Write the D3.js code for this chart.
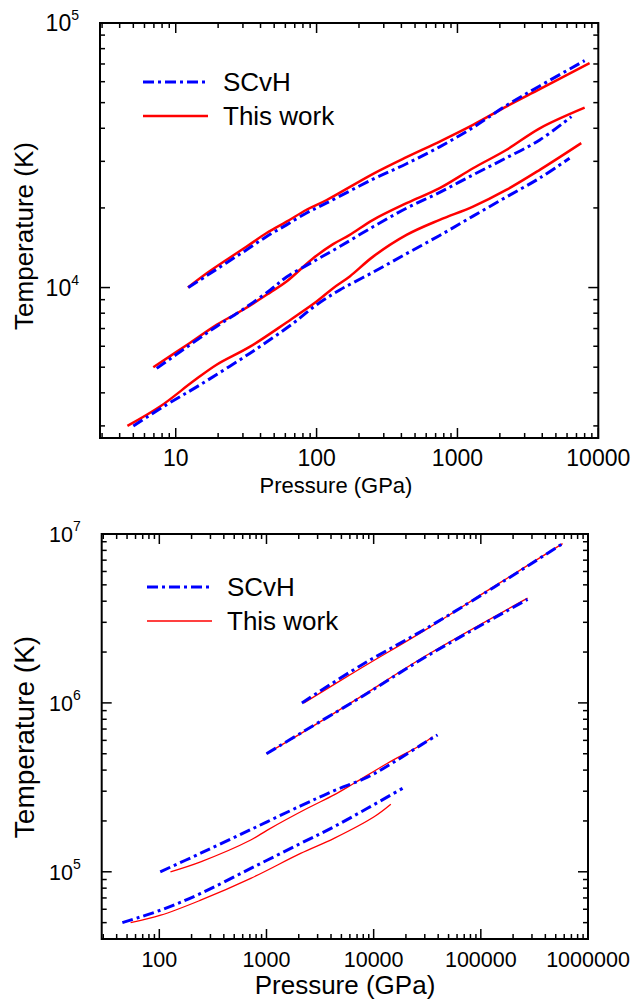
<!DOCTYPE html>
<meta charset="utf-8">
<style>
body { margin: 0; background: #fff; }
text { font-family: "Liberation Sans", Arial, sans-serif; fill: #000; }
.frame { fill: none; stroke: #000; stroke-width: 2; }
.tick { stroke: #000; stroke-width: 1.5; }
</style>
<svg width="636" height="1000"></svg>
<script src="https://d3js.org/d3.v7.min.js"></script>
<script>

// ---- top panel: [pressure GPa, temperature K]
var scvhTopA = [[12.3,10000],[16.6,11090],[23,12420],[31.9,13900],[44.2,15600],[61.2,17260],[84.9,19140],[118,20890],[252,25700],[435,29380],[748,34040],[1290,40270],[2220,48750],[3840,57810],[8000,72110]];
var workTopA = [[12.2,10000],[16.6,11320],[23,12740],[31.9,14290],[44.2,16070],[61.2,17740],[84.9,19680],[118,21430],[252,26920],[435,31120],[748,35650],[1290,41210],[2220,48310],[3840,56230],[8670,70470]];
var scvhTopB = [[7.33,4950],[12.6,6070],[19.5,7130],[30.1,8280],[46.7,9770],[61.2,10960],[94.6,12530],[146,14290],[252,16980],[435,19950],[748,22910],[1290,26670],[2220,30900],[3840,36140],[6440,44260]];
var workTopB = [[6.93,5000],[12.6,6170],[19.5,7230],[30.1,8240],[46.7,9570],[61.2,10540],[94.6,12910],[131,14590],[172,15810],[252,18030],[435,20840],[748,23770],[1290,28250],[2220,33110],[3840,39990],[8000,47860]];
var scvhTopC = [[5.0,3000],[8.63,3610],[14.9,4290],[33.7,5650],[68.2,7330],[100,8610],[146,9790],[252,11430],[435,13430],[748,15740],[1290,18620],[2220,21980],[3840,25940],[6250,30830]];
var workTopC = [[4.54,3000],[7.74,3550],[13.3,4420],[19.5,5110],[33.7,5980],[61.2,7380],[100,8850],[131,9950],[172,11020],[252,13090],[435,15810],[748,18030],[1290,20230],[2220,23390],[3840,27860],[7570,35160]];

// ---- bottom panel
var scvhBotA = [[2140,1000000],[7590,1667000],[31800,2786000],[133000,4842000],[579000,8770000]];
var workBotA = [[2240,1000000],[7590,1603000],[31800,2754000],[133000,4898000],[579000,8770000]];
var scvhBotB = [[1000,500000],[2240,680000],[7590,1080000],[31800,1900000],[273000,4100000]];
var workBotB = [[1000,500000],[2240,676000],[7590,1089000],[31800,1928000],[273000,4169000]];
var scvhBotC = [[102,100000],[243,128800],[713,177800],[2080,245500],[4270,302000],[8750,363100],[15490,446700],[27540,562300],[39450,645700]];
var workBotC = [[127,100000],[243,114600],[713,154200],[1019,176600],[2410,237700],[4270,285100],[6560,334200],[13460,439500],[27540,563600],[35400,631000]];
var scvhBotD = [[45.2,50000],[103,59300],[243,74400],[713,104700],[2080,147200],[4270,184900],[8750,237700],[18600,311900]];
var workBotD = [[54,50000],[103,55300],[243,67900],[713,91400],[2080,128500],[4270,157800],[10100,211800],[14460,251200]];

var topXTicks = [10, 100, 1000, 10000];
var topYTicks = [4, 5];
var botXTicks = [100, 1000, 10000, 100000, 1000000];
var botYTicks = [5, 6, 7];
var legendLabels = ["SCvH", "This work"];

var svg = d3.select("svg");

function minorTicks(domain) {
  var out = [];
  var lo = Math.floor(Math.log10(domain[0])), hi = Math.ceil(Math.log10(domain[1]));
  for (var e = lo; e <= hi; e++) {
    for (var m = 1; m <= 9; m++) {
      var v = m * Math.pow(10, e);
      if (v >= domain[0] * 0.999 && v <= domain[1] * 1.001) out.push({v: v, major: m === 1});
    }
  }
  return out;
}

function panel(cfg) {
  var x = d3.scaleLog().domain(cfg.xDomain).range([cfg.left, cfg.right]);
  var y = d3.scaleLog().domain(cfg.yDomain).range([cfg.bottom, cfg.top]);
  var g = svg.append("g");

  var line = d3.line()
      .x(function(d) { return x(d[0]); })
      .y(function(d) { return y(d[1]); })
      .curve(d3.curveCatmullRom.alpha(0.5));

  cfg.work.forEach(function(s) {
    g.append("path").attr("d", line(s))
        .attr("fill", "none").attr("stroke", "#ff0000")
        .attr("stroke-width", cfg.redWidth);
  });
  cfg.scvh.forEach(function(s) {
    g.append("path").attr("d", line(s))
        .attr("fill", "none").attr("stroke", "#0000ff")
        .attr("stroke-width", 3).attr("stroke-dasharray", "11,4,3,4");
  });

  // ticks on all four sides, pointing in
  minorTicks(cfg.xDomain).forEach(function(t) {
    var len = t.major ? 10 : 5, px = x(t.v);
    g.append("line").attr("class", "tick").attr("x1", px).attr("x2", px).attr("y1", cfg.bottom).attr("y2", cfg.bottom - len);
    g.append("line").attr("class", "tick").attr("x1", px).attr("x2", px).attr("y1", cfg.top).attr("y2", cfg.top + len);
  });
  minorTicks(cfg.yDomain).forEach(function(t) {
    var len = t.major ? 10 : 5, py = y(t.v);
    g.append("line").attr("class", "tick").attr("x1", cfg.left).attr("x2", cfg.left + len).attr("y1", py).attr("y2", py);
    g.append("line").attr("class", "tick").attr("x1", cfg.right).attr("x2", cfg.right - len).attr("y1", py).attr("y2", py);
  });

  g.append("rect").attr("class", "frame")
      .attr("x", cfg.left).attr("y", cfg.top)
      .attr("width", cfg.right - cfg.left).attr("height", cfg.bottom - cfg.top);

  cfg.xTicks.forEach(function(v) {
    g.append("text").attr("x", x(v)).attr("y", cfg.bottom + 28)
        .attr("text-anchor", "middle").attr("font-size", cfg.tickSize).text(v);
  });
  cfg.yTicks.forEach(function(e) {
    var t = g.append("text").attr("x", cfg.left - 21).attr("y", y(Math.pow(10, e)) + 8)
        .attr("text-anchor", "end").attr("font-size", cfg.tickSize);
    t.append("tspan").text("10");
    t.append("tspan").attr("dy", -11).attr("font-size", 14).text(e);
  });

  g.append("text").attr("x", cfg.xTitleX).attr("y", cfg.xTitleY)
      .attr("text-anchor", "middle").attr("font-size", cfg.xTitleSize).text("Pressure (GPa)");
  g.append("text").attr("transform", "translate(" + cfg.yTitleX + "," + cfg.yTitleMid + ") rotate(-90)")
      .attr("text-anchor", "middle").attr("font-size", cfg.yTitleSize).text("Temperature (K)");

  // legend
  legendLabels.forEach(function(label, i) {
    var ly = cfg.legendY + i * 34;
    var l = g.append("line").attr("x1", cfg.legendX).attr("x2", cfg.legendX + 65)
        .attr("y1", ly).attr("y2", ly);
    if (i === 0) l.attr("stroke", "#0000ff").attr("stroke-width", 3).attr("stroke-dasharray", "11,4,3,4");
    else l.attr("stroke", "#ff0000").attr("stroke-width", cfg.redWidth);
    g.append("text").attr("x", cfg.legendX + 80).attr("y", ly + 9)
        .attr("font-size", cfg.legendSize).text(label);
  });
}

panel({
  left: 100, right: 598.3, top: 23, bottom: 438,
  xDomain: [2.9, 10000], yDomain: [2700, 100000],
  xTicks: topXTicks, yTicks: topYTicks,
  scvh: [scvhTopA, scvhTopB, scvhTopC], work: [workTopA, workTopB, workTopC],
  redWidth: 2.5, tickSize: 23,
  xTitleSize: 22, xTitleX: 336, xTitleY: 493,
  yTitleSize: 26, yTitleX: 33, yTitleMid: 236,
  legendX: 143, legendY: 82, legendSize: 26
});

panel({
  left: 101.7, right: 588, top: 534, bottom: 939,
  xDomain: [29, 1000000], yDomain: [40000, 10000000],
  xTicks: botXTicks, yTicks: botYTicks,
  scvh: [scvhBotA, scvhBotB, scvhBotC, scvhBotD], work: [workBotA, workBotB, workBotC, workBotD],
  redWidth: 1.3, tickSize: 21.5,
  xTitleSize: 26, xTitleX: 345, xTitleY: 994,
  yTitleSize: 28, yTitleX: 34, yTitleMid: 737,
  legendX: 147, legendY: 587, legendSize: 26
});

</script>
